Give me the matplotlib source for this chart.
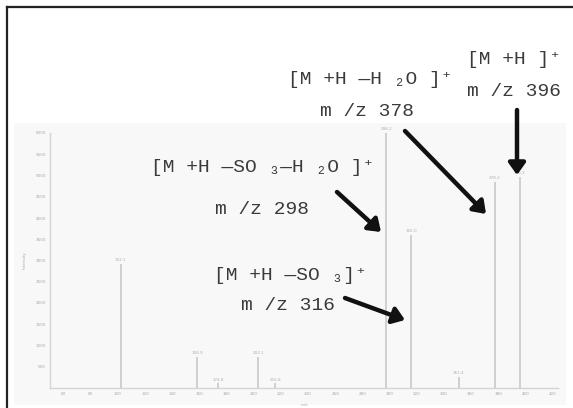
import matplotlib
matplotlib.use("Agg")
import matplotlib.pyplot as plt
from matplotlib.patches import FancyArrowPatch, Rectangle
from matplotlib.lines import Line2D

# ---- data ----
mz = [102, 158.5, 174, 203.5, 216, 297.5, 316, 351, 377.6, 396]
intensity = [2920, 730, 110, 730, 110, 6000, 3600, 260, 4850, 4960]
peak_labels = ["102.1", "158.9", "174.8", "203.1", "216.8", "298.2", "316.0", "351.4", "378.2", "396.2"]
x_ticks = list(range(60, 421, 20))
y_ticks = list(range(500, 6001, 500))

annotations = [
    # (text lines, text center px, arrow start px, arrow end px)
    (["[M +H —H ₂O ]⁺", "m /z 378"], [(370, 80), (367, 112)], (405, 131), (486, 214)),
    (["[M +H ]⁺", "m /z 396"], [(514, 60), (514, 91)], (517, 110), (517, 175)),
    (["[M +H —SO ₃—H ₂O ]⁺", "m /z 298"], [(263, 168), (262, 210)], (337, 192), (381, 232)),
    (["[M +H —SO ₃]⁺", "m /z 316"], [(290, 276), (288, 306)], (345, 298), (405, 320)),
]

W, H = 573, 408
fig = plt.figure(figsize=(W / 100, H / 100), dpi=100)
fig.patch.set_facecolor("white")

def fp(x, y):
    return (x / W, 1 - y / H)

# faint scanned background
fig.patches.append(Rectangle(fp(14, 405), 552 / W, 282 / H, transform=fig.transFigure,
                             facecolor="#f8f8f8", edgecolor="none", zorder=-5))

# frame (left and top visible)
fig.lines.append(Line2D([7 / W, 7 / W], [0, 1 - 7 / H], transform=fig.transFigure, color="#222222", lw=1.6))
fig.lines.append(Line2D([7 / W, 1], [1 - 7 / H, 1 - 7 / H], transform=fig.transFigure, color="#222222", lw=1.6))

x0, x1 = 50, 558
yb, yt = 388, 133
ax = fig.add_axes([x0 / W, 1 - yb / H, (x1 - x0) / W, (yb - yt) / H])
ax.set_facecolor("none")
ax.set_zorder(1)
ax.set_xlim(50, 424)
ax.set_ylim(0, 6000)
for s in ["top", "right"]:
    ax.spines[s].set_visible(False)
for s in ["left", "bottom"]:
    ax.spines[s].set_color("#d4d4d4")
    ax.spines[s].set_linewidth(1.0)

ax.vlines(mz, 0, intensity, color="#cfcfcf", lw=1.4)
for m, v, lab in zip(mz, intensity, peak_labels):
    ax.text(m, v + 40, lab, ha="center", va="bottom", fontsize=3, color="#b0b0b0", clip_on=False)

ax.set_xticks(x_ticks)
ax.set_xticklabels([str(t) for t in x_ticks], fontsize=3, color="#a8a8a8")
ax.set_yticks(y_ticks)
ax.set_yticklabels([str(t) for t in y_ticks], fontsize=3, color="#a8a8a8")
ax.tick_params(length=0, pad=3)
ax.set_xlabel("m/z", fontsize=3, color="#a8a8a8", labelpad=1)
ax.set_ylabel("Intensity", fontsize=3, color="#a8a8a8", labelpad=6)
ax.xaxis.set_label_coords(0.5, -0.06)

fam = ["Liberation Mono", "DejaVu Sans Mono"]
for lines, pos, a0, a1 in annotations:
    for t, (px, py) in zip(lines, pos):
        fig.text(*fp(px, py), t, ha="center", va="center", fontsize=14,
                 family=fam, color="#3a3a3a", zorder=3)
    arr = FancyArrowPatch(fp(*a0), fp(*a1), transform=fig.transFigure,
                          arrowstyle="-|>,head_length=7,head_width=5",
                          color="#111111", lw=3.2, shrinkA=0, shrinkB=0, zorder=3)
    fig.patches.append(arr)

fig.savefig("out.png", dpi=100, facecolor="white")
